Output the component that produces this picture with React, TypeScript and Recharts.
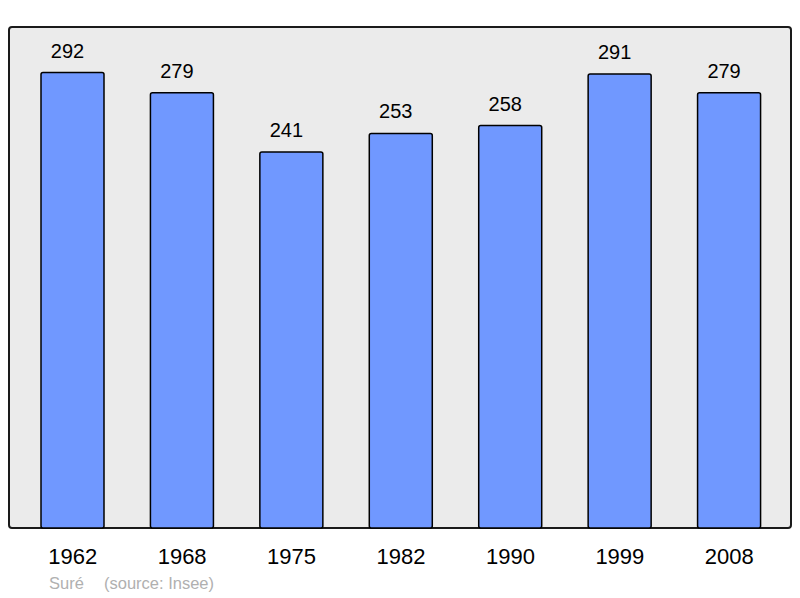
import { BarChart, Bar, XAxis, YAxis, LabelList } from "recharts";

// Population per census year (source: Insee)
const years = ["1962", "1968", "1975", "1982", "1990", "1999", "2008"];
const population = [292, 279, 241, 253, 258, 291, 279];
const commune = "Suré";
const source = "(source: Insee)";

const chartData = years.map((year, i) => ({ year, population: population[i] }));
const yMax = Math.max(...population) * 1.1;

const font = '"Liberation Sans", Arial, sans-serif';

// value above each bar, nudged a little left like the original
const ValueLabel = (props: any) => {
  const { x, y, width, value } = props;
  return (
    <text
      x={x + width / 2 - 5}
      y={y - 15}
      textAnchor="middle"
      fill="#000"
      fontSize={20}
      fontFamily={font}
    >
      {value}
    </text>
  );
};

export default function App() {
  return (
    <div style={{ position: "absolute", left: 0, top: 0, width: 800, height: 598, background: "#fff" }}>
      {/* grey plot frame */}
      <div
        style={{
          position: "absolute",
          left: 8,
          top: 26,
          width: 784,
          height: 503,
          boxSizing: "border-box",
          border: "2px solid #1a1a1a",
          borderRadius: 4,
          background: "#ebebeb",
        }}
      />
      <div style={{ position: "absolute", left: 0, top: 0 }}>
        <BarChart
          width={800}
          height={598}
          data={chartData}
          margin={{ top: 27, right: 9, bottom: 0, left: 9 }}
        >
          <XAxis
            dataKey="year"
            height={70}
            axisLine={false}
            tickLine={false}
            tickMargin={14}
            padding={{ left: 9, right: 7 }}
            tick={{ fontSize: 22, fill: "#000", fontFamily: font }}
          />
          <YAxis hide domain={[0, yMax]} />
          <Bar
            dataKey="population"
            fill="#7098ff"
            stroke="#000"
            strokeWidth={1.5}
            radius={2}
            barSize={63}
            isAnimationActive={false}
          >
            <LabelList dataKey="population" content={ValueLabel} />
          </Bar>
        </BarChart>
      </div>
      <div
        style={{
          position: "absolute",
          left: 49,
          top: 574,
          fontFamily: font,
          fontSize: 16.5,
          color: "#b0b0b0",
          whiteSpace: "pre",
        }}
      >
        {commune}
      </div>
      <div
        style={{
          position: "absolute",
          left: 104,
          top: 574,
          fontFamily: font,
          fontSize: 16.5,
          color: "#b0b0b0",
          whiteSpace: "pre",
        }}
      >
        {source}
      </div>
    </div>
  );
}
